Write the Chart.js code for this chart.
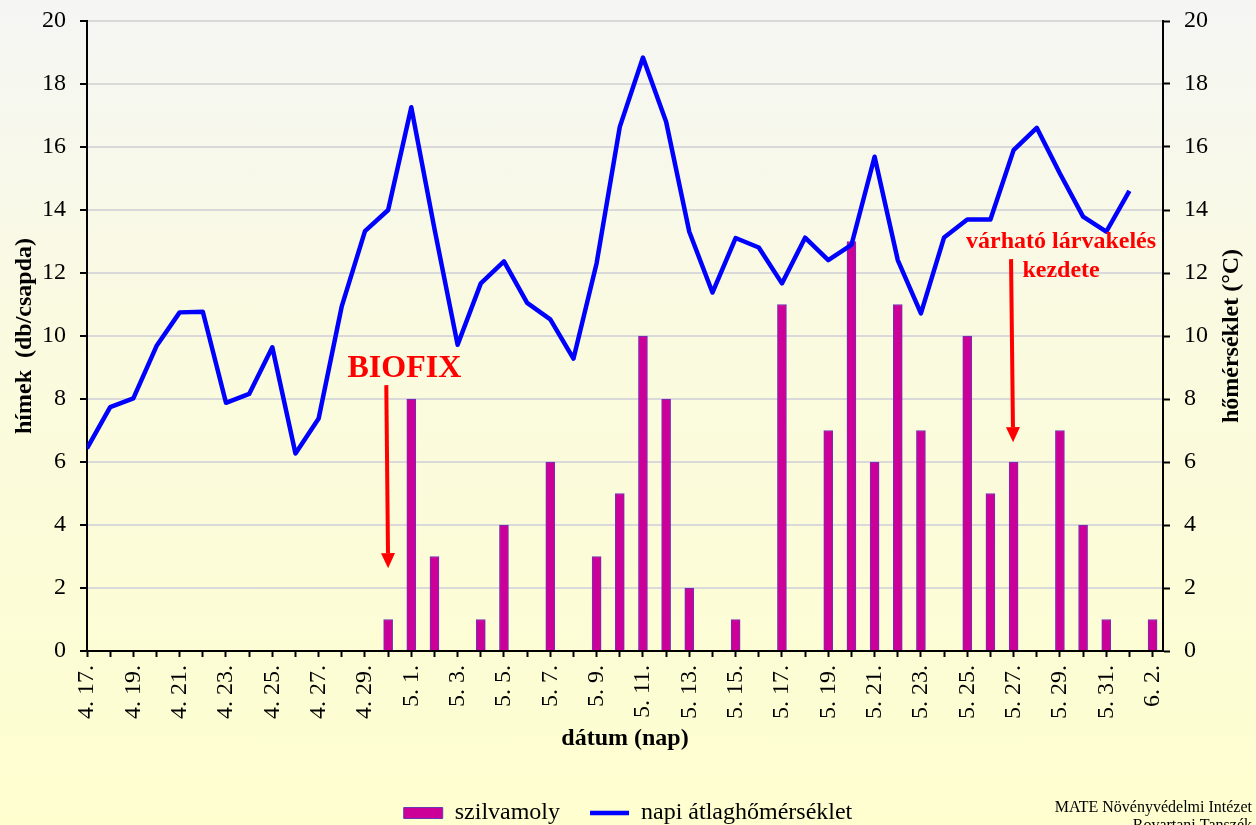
<!DOCTYPE html>
<html>
<head>
<meta charset="utf-8">
<title>szilvamoly rajzás</title>
<script src="https://cdn.jsdelivr.net/npm/chart.js@4.4.1/dist/chart.umd.min.js"></script>
<style>
  html, body { margin: 0; padding: 0; overflow: hidden; }
  #wrap {
    width: 1256px;
    height: 850px;
    background: linear-gradient(to bottom, #f5f6f4 0px, #fafae0 330px, #fefecf 825px);
  }
</style>
</head>
<body>
<div id="wrap"><canvas id="chart" width="1256" height="850"></canvas></div>
<script>
// napok (x tengely)
const days = [
  '4. 17.', '4. 18.', '4. 19.', '4. 20.', '4. 21.', '4. 22.', '4. 23.', '4. 24.',
  '4. 25.', '4. 26.', '4. 27.', '4. 28.', '4. 29.', '4. 30.',
  '5. 1.', '5. 2.', '5. 3.', '5. 4.', '5. 5.', '5. 6.', '5. 7.', '5. 8.', '5. 9.',
  '5. 10.', '5. 11.', '5. 12.', '5. 13.', '5. 14.', '5. 15.', '5. 16.', '5. 17.',
  '5. 18.', '5. 19.', '5. 20.', '5. 21.', '5. 22.', '5. 23.', '5. 24.', '5. 25.',
  '5. 26.', '5. 27.', '5. 28.', '5. 29.', '5. 30.', '5. 31.',
  '6. 1.', '6. 2.'
];

// szilvamoly hímek / csapda
const moths = [
  0, 0, 0, 0, 0, 0, 0, 0, 0, 0, 0, 0, 0, 1,
  8, 3, 0, 1, 4, 0, 6, 0, 3, 5, 10, 8, 2, 0, 1, 0, 11,
  0, 7, 13, 6, 11, 7, 0, 10, 5, 6, 0, 7, 4, 1,
  0, 1
];

// napi átlaghőmérséklet (°C)
const temps = [
  6.43, 7.74, 8.02, 9.68, 10.75, 10.77, 7.88, 8.16, 9.64, 6.27, 7.38, 10.95, 13.33, 14.0,
  17.26, 13.4, 9.72, 11.67, 12.37, 11.05, 10.53, 9.28, 12.31, 16.64, 18.84, 16.8, 13.31,
  11.38, 13.11, 12.81, 11.67, 13.12, 12.41, 12.89, 15.69, 12.41, 10.72, 13.13, 13.7,
  13.7, 15.9, 16.61, 15.16, 13.79, 13.31,
  14.61, null
];

const serif = '"Liberation Serif", "Times New Roman", serif';
Chart.defaults.font.family = serif;
Chart.defaults.color = '#000';

function arrow(ctx, x1, y1, x2, y2) {
  const ang = Math.atan2(y2 - y1, x2 - x1);
  const len = 15, half = 7;
  const bx = x2 - len * Math.cos(ang), by = y2 - len * Math.sin(ang);
  ctx.lineWidth = 4;
  ctx.beginPath();
  ctx.moveTo(x1, y1);
  ctx.lineTo(bx, by);
  ctx.stroke();
  ctx.beginPath();
  ctx.moveTo(x2, y2);
  ctx.lineTo(bx + half * Math.sin(ang), by - half * Math.cos(ang));
  ctx.lineTo(bx - half * Math.sin(ang), by + half * Math.cos(ang));
  ctx.closePath();
  ctx.fill();
}

// y tengelyek: fix szélesség, a címkék ne tolják le a rajzterületet
const fixY = w => s => { s.width = w; s.paddingTop = 0; s.paddingBottom = 0; };

// feliratok: BIOFIX, lárvakelés, jobb tengelycím, forrás
const notes = {
  id: 'notes',
  afterDatasetsDraw(chart) {
    const { ctx, scales: { x, y } } = chart;
    ctx.save();
    ctx.fillStyle = '#ff0000';
    ctx.strokeStyle = '#ff0000';
    ctx.textAlign = 'center';
    ctx.textBaseline = 'alphabetic';
    ctx.font = 'bold 32px ' + serif;
    ctx.fillText('BIOFIX', x.getPixelForValue(13.7), y.getPixelForValue(8.70));
    arrow(ctx, x.getPixelForValue(12.92), y.getPixelForValue(8.44),
               x.getPixelForValue(13.0), y.getPixelForValue(2.63));
    ctx.font = 'bold 24px ' + serif;
    ctx.fillText('várható lárvakelés', x.getPixelForValue(42.05), y.getPixelForValue(12.79));
    ctx.fillText('kezdete', x.getPixelForValue(42.05), y.getPixelForValue(11.87));
    arrow(ctx, x.getPixelForValue(39.89), y.getPixelForValue(12.44),
               x.getPixelForValue(39.98), y.getPixelForValue(6.63));
    ctx.restore();
  },
  afterDraw(chart) {
    const { ctx, chartArea } = chart;
    ctx.save();
    ctx.fillStyle = '#000';
    ctx.font = 'bold 24px ' + serif;
    ctx.textAlign = 'center';
    ctx.textBaseline = 'middle';
    ctx.translate(1232, (chartArea.top + chartArea.bottom) / 2);
    ctx.rotate(-Math.PI / 2);
    ctx.fillText('hőmérséklet (°C)', 0, 0);
    ctx.restore();

    ctx.save();
    ctx.fillStyle = '#000';
    ctx.font = '16px ' + serif;
    ctx.textAlign = 'right';
    ctx.fillText('MATE Növényvédelmi Intézet', 1252, 808);
    ctx.fillText('Rovartani Tanszék', 1252, 826);
    ctx.restore();
  }
};

const ctx = document.getElementById('chart');
new Chart(ctx, {
  type: 'bar',
  data: {
    datasets: [
      {
        type: 'bar',
        label: 'szilvamoly',
        data: moths.map((v, i) => ({ x: i, y: v === 0 ? null : v })),
        backgroundColor: '#cc0099',
        borderColor: '#6a35b5',
        borderWidth: 1,
        barThickness: 9,
        yAxisID: 'y',
        order: 1
      },
      {
        type: 'line',
        label: 'napi átlaghőmérséklet',
        data: temps.map((v, i) => ({ x: i, y: v })),
        borderColor: '#0000ff',
        backgroundColor: '#0000ff',
        borderWidth: 4.5,
        borderJoinStyle: 'round',
        pointRadius: 0,
        tension: 0,
        fill: false,
        yAxisID: 'y2',
        order: 0
      }
    ]
  },
  options: {
    responsive: false,
    animation: false,
    layout: { padding: { top: 21, right: 0, bottom: 15, left: 0 } },
    plugins: {
      tooltip: { enabled: false },
      legend: {
        position: 'bottom',
        labels: {
          usePointStyle: true,
          pointStyleWidth: 39,
          boxHeight: 11,
          padding: 30,
          color: '#000',
          font: { size: 24 },
          generateLabels(chart) {
            const items = Chart.defaults.plugins.legend.labels.generateLabels(chart);
            items.sort((a, b) => a.datasetIndex - b.datasetIndex);
            items.forEach(it => { it.pointStyle = it.datasetIndex === 0 ? 'rect' : 'line'; });
            return items;
          }
        }
      }
    },
    scales: {
      x: {
        type: 'linear',
        position: 'bottom',
        offset: false,
        bounds: 'data',
        min: 0,
        max: 46.45,
        afterBuildTicks: s => { s.ticks = days.map((d, i) => ({ value: i })); },
        afterFit: s => { s.height = 120; },
        ticks: {
          autoSkip: false,
          minRotation: 90,
          maxRotation: 90,
          padding: 8,
          font: { size: 24 },
          callback: v => (v % 2 === 0 ? days[v] : '')
        },
        grid: { drawOnChartArea: false, offset: false, tickLength: 6, tickColor: '#000', tickWidth: 2 },
        border: { color: '#000', width: 2 },
        title: {
          display: true,
          text: 'dátum (nap)',
          font: { size: 24, weight: 'bold' },
          padding: { top: 0, bottom: 18 }
        }
      },
      y: {
        position: 'left',
        min: 0,
        max: 20,
        afterFit: fixY(87),
        ticks: { stepSize: 2, padding: 14, font: { size: 24 } },
        grid: {
          color: c => (c.tick && c.tick.value === 0 ? 'rgba(0,0,0,0)' : '#d9d9d9'),
          lineWidth: 2,
          tickLength: 7,
          tickColor: '#000',
          tickWidth: 2
        },
        border: { color: '#000', width: 2 },
        title: {
          display: true,
          text: 'hímek  (db/csapda)',
          font: { size: 24, weight: 'bold' },
          padding: { top: 10, bottom: 0 }
        }
      },
      y2: {
        position: 'right',
        min: 0,
        max: 20,
        afterFit: fixY(93),
        ticks: { stepSize: 2, padding: 14, font: { size: 24 } },
        grid: { drawOnChartArea: false, tickLength: 7, tickColor: '#000', tickWidth: 2 },
        border: { color: '#000', width: 2 }
      }
    }
  },
  plugins: [notes]
});
</script>
</body>
</html>
